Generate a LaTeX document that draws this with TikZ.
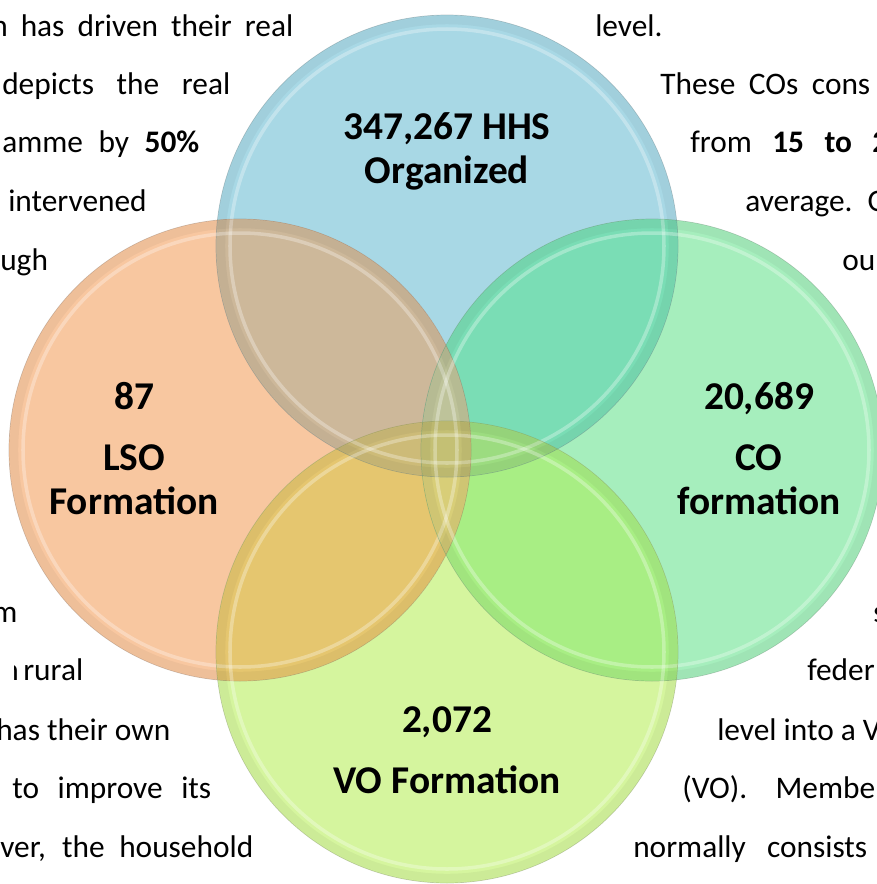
\documentclass[tikz,border=0pt]{standalone}
\usepackage{fontspec}
\setmainfont{Carlito}
\usepackage{xcolor}
\usepackage{tikz}
\usetikzlibrary{positioning}

\definecolor{hhsblue}{HTML}{A8D8E5}
\definecolor{lsoorange}{HTML}{F8C7A0}
\definecolor{cogreen}{HTML}{A6EEBD}
\definecolor{voyellow}{HTML}{D5F59E}
\definecolor{tlmix}{HTML}{CDB89A}
\definecolor{trmix}{HTML}{7ADDB5}
\definecolor{lbmix}{HTML}{E5C66F}
\definecolor{rbmix}{HTML}{A8EE84}
\definecolor{tlbmix}{HTML}{CDBB78}
\definecolor{trbmix}{HTML}{9CDC80}
\definecolor{tlrmix}{HTML}{BEC39A}
\definecolor{lrbmix}{HTML}{D8CE78}
\definecolor{allmix}{HTML}{C4C074}

\newlength{\pxu}
\setlength{\pxu}{0.025cm}

\begin{document}
\begin{tikzpicture}[
    x=0.025cm, y=-0.025cm,
    bodytext/.style={anchor=base west, inner sep=0pt, font=\fontsize{22.3}{26}\selectfont},
    bigtext/.style={anchor=base, inner sep=0pt, font=\fontsize{28}{31}\selectfont\bfseries},
    circedge/.style={draw=#1!55!black, draw opacity=0.4, line width=0.5pt},
    rimdark/.style={draw=black, draw opacity=0.04, line width=6pt},
    rimlight/.style={draw=white, draw opacity=0.3, line width=2.5pt}
]

\useasboundingbox (0,0) rectangle (877,884);

% Circle centres
\coordinate (cT) at (447,246);
\coordinate (cL) at (240,450);
\coordinate (cR) at (652,450);
\coordinate (cB) at (447,652);

% Plain fills
\fill[hhsblue] (cT) circle (231);
\fill[lsoorange] (cL) circle (231);
\fill[cogreen] (cR) circle (231);
\fill[voyellow] (cB) circle (231);

% Overlaps
\foreach \a/\b/\c/\d/\col in {T/L/L/L/tlmix, T/R/R/R/trmix, B/L/L/L/lbmix, B/R/R/R/rbmix,
    T/L/B/B/tlbmix, T/R/B/B/trbmix, T/L/R/R/tlrmix, B/L/R/R/lrbmix, T/L/R/B/allmix} {
  \begin{scope}
    \clip (c\a) circle (231);
    \clip (c\b) circle (231);
    \clip (c\c) circle (231);
    \fill[\col] (c\d) circle (231);
  \end{scope}
}

% Rims
\foreach \n/\col in {T/hhsblue, L/lsoorange, R/cogreen, B/voyellow} {
  \draw[rimdark] (c\n) circle (226);
  \draw[rimlight] (c\n) circle (217);
  \draw[circedge=\col] (c\n) circle (231);
}

% Circle labels
\node[bigtext] (hhsnum) at (447,139) {347,267 HHS};
\node[bigtext] (hhsname) at (447,183) {Organized};
\node[bigtext] (lsonum) at (134,409) {87};
\node[bigtext] (lsoname) at (134,470) {LSO};
\node[bigtext] (lsoform) at (134,514) {Formation};
\node[bigtext] (conum) at (759,409) {20,689};
\node[bigtext] (coname) at (759,470) {CO};
\node[bigtext] (coform) at (759,514) {formation};
\node[bigtext] (vonum) at (447,732) {2,072};
\node[bigtext] (voname) at (447,793) {VO Formation};

% Body text, left column
\node[bodytext] (l1) at (-9,36) {\makebox[302\pxu][s]{n has driven their real}};
\node[bodytext] (l2) at (2,94) {\makebox[228\pxu][s]{depicts the real}};
\node[bodytext] (l3) at (2,152) {\makebox[197\pxu][s]{amme by \textbf{50\%}}};
\node[bodytext] (l4) at (8,211) {intervened};
\node[bodytext] (l5) at (0,270) {ugh};
\node[bodytext] (l6) at (-8,622) {m};
\begin{scope}
  \clip (14,650) rectangle (20,690);
  \node[bodytext] (l7a) at (2,680) {n};
\end{scope}
\node[bodytext] (l7) at (23,680) {rural};
\node[bodytext] (l8) at (-4,740) {has their own};
\node[bodytext] (l9) at (12,798) {\makebox[199\pxu][s]{to improve its}};
\node[bodytext] (l10) at (0,857) {\makebox[253\pxu][s]{ver, the household}};

% Body text, right column
\node[bodytext] (r1) at (595,36) {level.};
\node[bodytext] (r2) at (660,94) {\makebox[210\pxu][s]{These COs cons}};
\node[bodytext] (r3) at (690,152) {\makebox[198\pxu][s]{from \textbf{15} \textbf{to} \textbf{2}}};
\node[bodytext] (r4) at (745,211) {\makebox[143\pxu][s]{average. O}};
\node[bodytext] (r5) at (842,270) {ou};
\node[bodytext] (r6) at (873,622) {s};
\node[bodytext] (r7) at (807,680) {feder};
\node[bodytext] (r8) at (717,740) {level into a V};
\node[bodytext] (r9) at (682,798) {\makebox[193\pxu][s]{(VO). Membe}};
\node[bodytext] (r10) at (633,857) {\makebox[234\pxu][s]{normally consists}};

\end{tikzpicture}
\end{document}
